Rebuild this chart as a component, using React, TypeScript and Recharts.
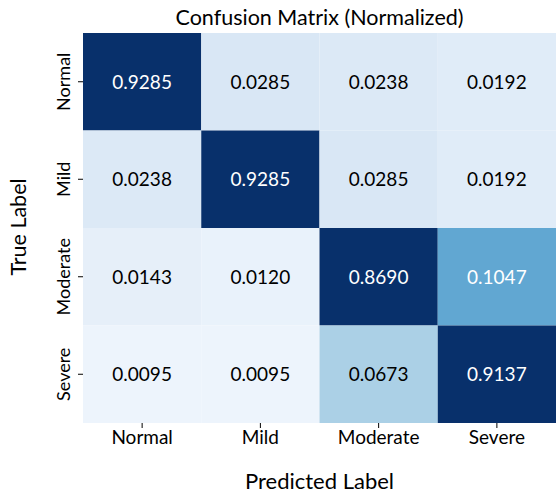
import { ReferenceArea, Scatter, ScatterChart, XAxis, YAxis } from "recharts";

const classes = ["Normal", "Mild", "Moderate", "Severe"];

// rows = true label, cols = predicted label
const rowNormal = [0.9285, 0.0285, 0.0238, 0.0192];
const rowMild = [0.0238, 0.9285, 0.0285, 0.0192];
const rowModerate = [0.0143, 0.012, 0.869, 0.1047];
const rowSevere = [0.0095, 0.0095, 0.0673, 0.9137];
const matrix = [rowNormal, rowMild, rowModerate, rowSevere];

const tickPos = [0.5, 1.5, 2.5, 3.5];

// colour scale stops (Blues)
const colorStops: [number, string][] = [
  [0.0095, "#edf4fc"],
  [0.012, "#e9f2fb"],
  [0.0143, "#e6eff9"],
  [0.0192, "#e0ecf8"],
  [0.0238, "#dce9f6"],
  [0.0285, "#d9e7f5"],
  [0.0673, "#abd0e6"],
  [0.1047, "#61a7d2"],
  [0.869, "#08306b"],
  [1, "#08306b"],
];

const FONT = "Lato, 'Open Sans', sans-serif";

function hex(c: string) {
  return [1, 3, 5].map((i) => parseInt(c.slice(i, i + 2), 16));
}

function cellColor(v: number) {
  if (v <= colorStops[0][0]) return colorStops[0][1];
  for (let i = 1; i < colorStops.length; i++) {
    const [v1, c1] = colorStops[i];
    const [v0, c0] = colorStops[i - 1];
    if (v <= v1) {
      const t = (v - v0) / (v1 - v0);
      const a = hex(c0);
      const b = hex(c1);
      const m = a.map((x, k) => Math.round(x + (b[k] - x) * t));
      return `rgb(${m[0]},${m[1]},${m[2]})`;
    }
  }
  return colorStops[colorStops.length - 1][1];
}

const cells = matrix.flatMap((row, r) =>
  row.map((v, c) => ({ x: c + 0.5, y: r + 0.5, r, c, v })),
);

function YTick(props: any) {
  const { x, y, payload } = props;
  const name = classes[Math.floor(payload.value)];
  return (
    <text
      x={x - 6}
      y={y}
      transform={`rotate(-90, ${x - 6}, ${y})`}
      textAnchor="middle"
      fontSize={18}
      fontFamily={FONT}
      fill="#000"
    >
      {name}
    </text>
  );
}

function CellText(props: any) {
  const { cx, cy, payload } = props;
  const white = payload.v > 0.1;
  return (
    <text
      x={cx}
      y={cy}
      dy="0.36em"
      textAnchor="middle"
      fontSize={19}
      fontFamily={FONT}
      fill={white ? "#ffffff" : "#000000"}
    >
      {payload.v.toFixed(4)}
    </text>
  );
}

export default function App() {
  return (
    <div style={{ position: "absolute", left: 0, top: 0, width: 558, height: 493, background: "#fff" }}>
      <div
        style={{
          position: "absolute",
          left: 83,
          width: 473,
          top: 3,
          textAlign: "center",
          fontFamily: FONT,
          fontSize: 21.5,
          lineHeight: "28px",
          color: "#000",
        }}
      >
        Confusion Matrix (Normalized)
      </div>
      <div
        style={{
          position: "absolute",
          left: 83,
          width: 473,
          top: 467,
          textAlign: "center",
          fontFamily: FONT,
          fontSize: 22,
          lineHeight: "28px",
          color: "#000",
        }}
      >
        Predicted Label
      </div>
      <div
        style={{
          position: "absolute",
          left: 18 - 60,
          top: 227 - 14,
          width: 120,
          textAlign: "center",
          transform: "rotate(-90deg)",
          fontFamily: FONT,
          fontSize: 21.5,
          lineHeight: "28px",
          color: "#000",
        }}
      >
        True Label
      </div>
      <ScatterChart width={558} height={493} margin={{ top: 33, right: 2, bottom: 0, left: 0 }}>
        <XAxis
          type="number"
          dataKey="x"
          domain={[0, 4]}
          ticks={tickPos}
          tickFormatter={(v: number) => classes[Math.floor(v)]}
          axisLine={false}
          tickSize={5}
          tickMargin={3}
          tickLine={{ stroke: "#000" }}
          tick={{ fill: "#000", fontSize: 19, fontFamily: FONT }}
          height={70}
          interval={0}
        />
        <YAxis
          type="number"
          dataKey="y"
          domain={[0, 4]}
          reversed
          ticks={tickPos}
          axisLine={false}
          tickSize={5}
          tickLine={{ stroke: "#000" }}
          tick={<YTick />}
          width={83}
          interval={0}
        />
        {cells.map((d) => (
          <ReferenceArea
            key={`${d.r}-${d.c}`}
            x1={d.c}
            x2={d.c + 1}
            y1={d.r}
            y2={d.r + 1}
            fill={cellColor(d.v)}
            fillOpacity={1}
            stroke="none"
            ifOverflow="visible"
          />
        ))}
        <Scatter data={cells} shape={<CellText />} isAnimationActive={false} />
      </ScatterChart>
    </div>
  );
}
